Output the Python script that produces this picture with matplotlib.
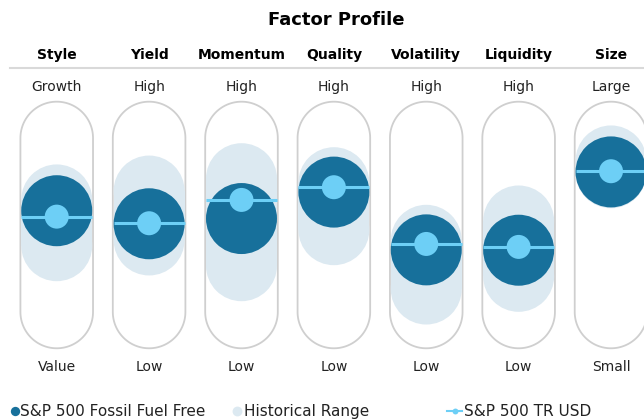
import numpy as np
import matplotlib.pyplot as plt
from matplotlib.patches import Ellipse, Rectangle, Polygon

# factor names and scale end labels
factors = ["Style", "Yield", "Momentum", "Quality", "Volatility", "Liquidity", "Size"]
top_labels = ["Growth", "High", "High", "High", "High", "High", "Large"]
bottom_labels = ["Value", "Low", "Low", "Low", "Low", "Low", "Small"]

# scores on a 0 (bottom) .. 100 (top) scale
fund_score = [58.2, 50.7, 53.7, 68.9, 35.7, 35.5, 80.5]
bench_score = [54.8, 51.0, 64.4, 71.7, 39.1, 37.4, 80.9]
range_low = [38.1, 41.4, 26.6, 47.3, 13.2, 20.5, 80.0]
range_high = [64.4, 69.5, 76.6, 74.3, 41.2, 52.3, 86.8]

DARK = "#17709b"
RANGE = "#dce9f1"
BENCH = "#6dcff6"
OUTLINE = "#cfcfcf"
TEXT = "#222222"

W, H = 644, 419
fig = plt.figure(figsize=(W / 100, H / 100), dpi=100)
ax = fig.add_axes([0, 0, 1, 1])
ax.set_xlim(-0.614, 6.357)
ax.set_ylim(-61.5, 179.3)
ax.axis("off")

# pixels per data unit, so circles come out round
px_x = W / (ax.get_xlim()[1] - ax.get_xlim()[0])
px_y = H / (ax.get_ylim()[1] - ax.get_ylim()[0])


def radii(r_px):
    return r_px / px_x, r_px / px_y


pill_rx, pill_ry = radii(36.3)
dot_rx, dot_ry = radii(35.5)
b_rx, b_ry = radii(12)

# capsule outline shape (scale 0..100 plus round ends)
t_top = np.linspace(0, np.pi, 60)
t_bot = np.linspace(np.pi, 2 * np.pi, 60)

for i in range(len(factors)):
    # pill outline
    xs = np.concatenate([i + pill_rx * np.cos(t_top), i + pill_rx * np.cos(t_bot)])
    ys = np.concatenate([100 + pill_ry * np.sin(t_top), 0 + pill_ry * np.sin(t_bot)])
    ax.add_patch(Polygon(np.column_stack([xs, ys]), closed=True, fill=False,
                         edgecolor=OUTLINE, lw=1.3, zorder=1))

    # historical range capsule
    lo, hi = range_low[i], range_high[i]
    ax.add_patch(Rectangle((i - dot_rx, lo), 2 * dot_rx, hi - lo, color=RANGE, lw=0, zorder=2))
    ax.add_patch(Ellipse((i, lo), 2 * dot_rx, 2 * dot_ry, color=RANGE, lw=0, zorder=2))
    ax.add_patch(Ellipse((i, hi), 2 * dot_rx, 2 * dot_ry, color=RANGE, lw=0, zorder=2))

    # fund
    ax.add_patch(Ellipse((i, fund_score[i]), 2 * dot_rx, 2 * dot_ry, color=DARK, lw=0, zorder=3))

    # benchmark
    ax.hlines(bench_score[i], i - dot_rx, i + dot_rx, color=BENCH, lw=2.2, zorder=4)
    ax.add_patch(Ellipse((i, bench_score[i]), 2 * b_rx, 2 * b_ry, color=BENCH, lw=0, zorder=5))

    # labels
    x_fig = (i - ax.get_xlim()[0]) * px_x / W
    fig.text(x_fig, 1 - 55 / H, factors[i], ha="center", va="center",
             fontsize=10, fontweight="bold", color="black")
    fig.text(x_fig, 1 - 87 / H, top_labels[i], ha="center", va="center",
             fontsize=10, color=TEXT)
    fig.text(x_fig, 1 - 367 / H, bottom_labels[i], ha="center", va="center",
             fontsize=10, color=TEXT)

fig.text(336 / W, 1 - 20 / H, "Factor Profile", ha="center", va="center",
         fontsize=13, fontweight="bold", color="black")

# separator under headers
fig.add_artist(plt.Line2D([10 / W, 1], [1 - 68.5 / H] * 2, color="#d9d9d9", lw=1.5))

# legend
ly = 1 - 411 / H
ax.scatter([14.5 / W], [ly], s=45, color=DARK, transform=fig.transFigure, clip_on=False, lw=0)
fig.text(20 / W, ly, "S&P 500 Fossil Fuel Free", ha="left", va="center", fontsize=11, color=TEXT)
ax.scatter([236.5 / W], [ly], s=50, color=RANGE, transform=fig.transFigure, clip_on=False, lw=0)
fig.text(244 / W, ly, "Historical Range", ha="left", va="center", fontsize=11, color=TEXT)
fig.add_artist(plt.Line2D([447 / W, 462 / W], [ly, ly], color=BENCH, lw=1.5))
ax.scatter([454.5 / W], [ly], s=18, color=BENCH, transform=fig.transFigure, clip_on=False, lw=0)
fig.text(464 / W, ly, "S&P 500 TR USD", ha="left", va="center", fontsize=11, color=TEXT)

fig.savefig("out.png", dpi=100, facecolor="white")
